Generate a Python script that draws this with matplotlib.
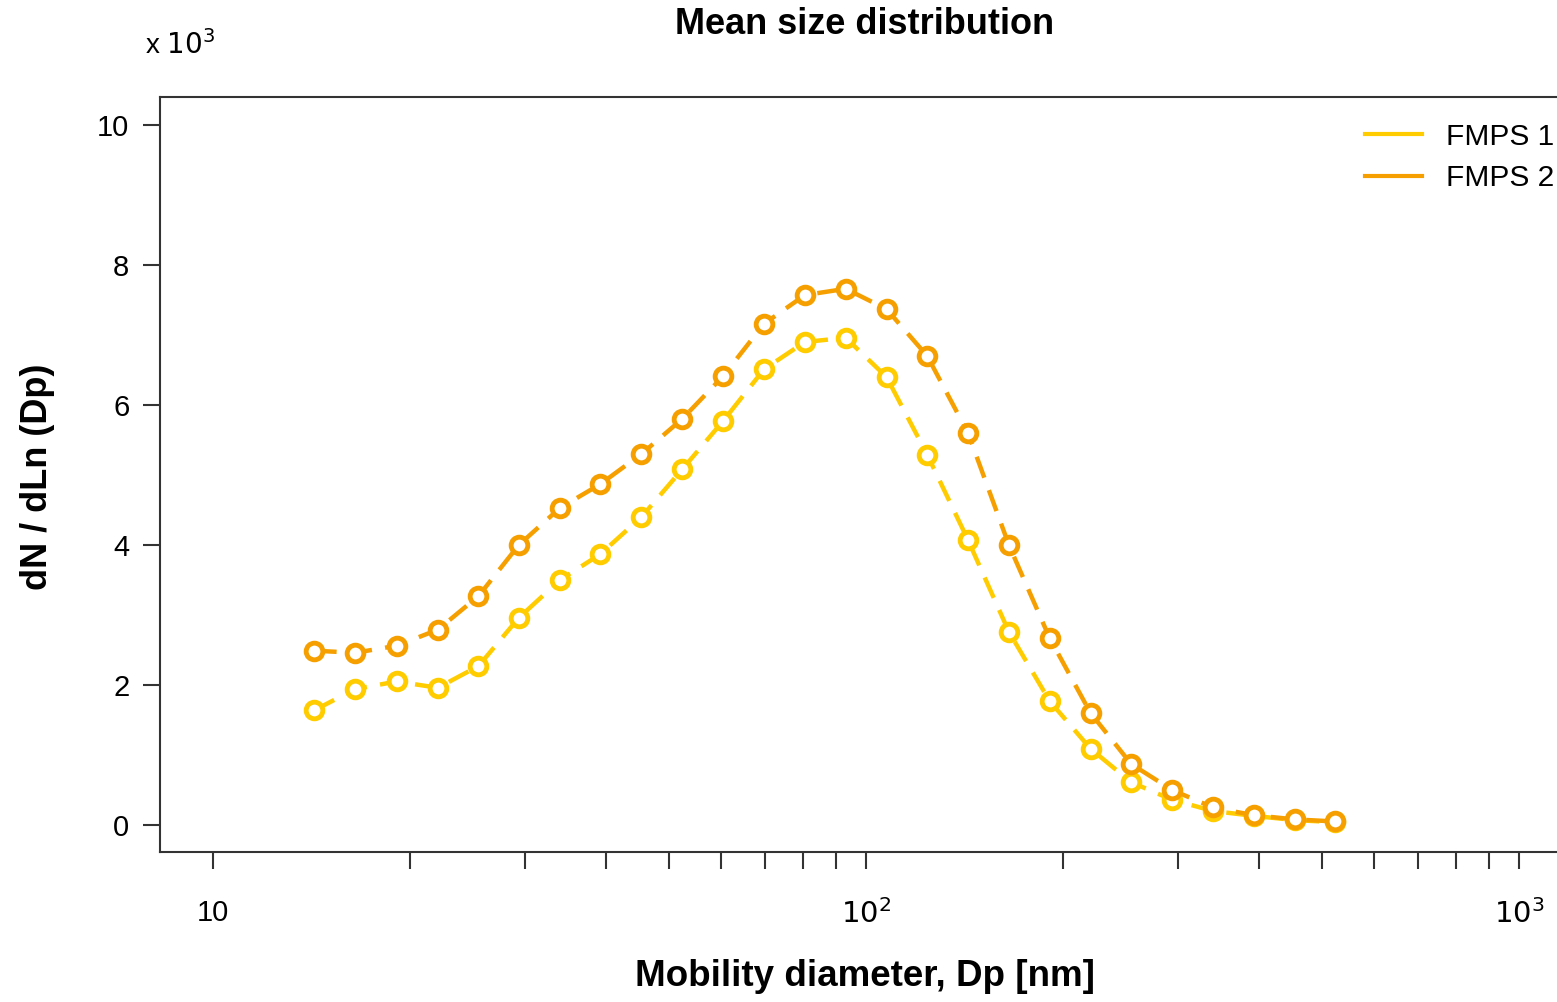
import numpy as np
from matplotlib import pyplot as plt
from matplotlib.ticker import FixedLocator, NullFormatter

plt.rcParams['font.family'] = ['Liberation Sans', 'DejaVu Sans']

# FMPS channel midpoints (nm)
dp = [14.3, 16.5, 19.1, 22.1, 25.5, 29.4, 34.0, 39.2, 45.3, 52.3, 60.4, 69.8, 80.6,
      93.1, 107.5, 124.1, 143.3, 165.5, 191.1, 220.7, 254.8, 294.3, 339.8, 392.4,
      453.2, 523.3]

# dN/dLn(Dp), x 10^3
fmps1 = [1.64, 1.94, 2.05, 1.96, 2.27, 2.96, 3.50, 3.87, 4.40, 5.08, 5.77, 6.51, 6.90,
         6.96, 6.40, 5.29, 4.07, 2.76, 1.77, 1.09, 0.61, 0.36, 0.20, 0.13, 0.07, 0.04]
fmps2 = [2.49, 2.46, 2.56, 2.79, 3.27, 4.00, 4.53, 4.87, 5.30, 5.80, 6.41, 7.16, 7.57,
         7.66, 7.37, 6.70, 5.60, 4.00, 2.67, 1.60, 0.87, 0.50, 0.25, 0.14, 0.08, 0.05]

c1 = '#FFCC00'
c2 = '#F5A000'

fig = plt.figure(figsize=(15.57, 10.02), dpi=100)
ax = fig.add_axes([160 / 1557, 150 / 1002, 1402 / 1557, 755 / 1002])

for ys, c in [(fmps1, c1), (fmps2, c2)]:
    ax.plot(dp, ys, color=c, lw=3.2, ls=(0, (5, 3)), marker='o', ms=12,
            mew=3.5, mfc='white', mec=c)

# legend shows plain lines only
ax.plot([], [], color=c1, lw=3, label='FMPS 1')
ax.plot([], [], color=c2, lw=3, label='FMPS 2')
ax.legend(loc='upper left', bbox_to_anchor=(0.8595, 0.966), frameon=False,
          fontsize=21.5, handlelength=1.9, handletextpad=0.8, labelspacing=0.45,
          borderpad=0, borderaxespad=0)

ax.set_xscale('log')
ax.set_xlim(10 ** (1 - 53 / 653), 10 ** (3 + 43 / 653))
ax.set_ylim(-0.386, 10.4)

ax.xaxis.set_major_locator(FixedLocator([10, 100, 1000]))
ax.set_xticklabels(['10', r'$10^2$', r'$10^3$'])
minors = [m * d for d in (10, 100) for m in range(2, 10)] + [2000]
ax.xaxis.set_minor_locator(FixedLocator(minors))
ax.xaxis.set_minor_formatter(NullFormatter())
ax.set_yticks([0, 2, 4, 6, 8, 10])

ax.tick_params(axis='both', which='both', direction='out', length=12, width=1.5,
               color='#333333', labelsize=21)
ax.tick_params(axis='x', which='major', pad=22)
ax.tick_params(axis='y', pad=10)
for s in ax.spines.values():
    s.set_linewidth(1.5)
    s.set_color('#333333')

fig.text(865 / 1557, 1 - 25 / 1002, 'Mean size distribution', ha='center', va='center',
         fontsize=26, fontweight='bold')
fig.text(865 / 1557, 1 - 977 / 1002, 'Mobility diameter, Dp [nm]', ha='center',
         va='center', fontsize=26.5, fontweight='bold')
fig.text(38 / 1557, 1 - 477 / 1002, 'dN / dLn (Dp)', ha='center', va='center',
         rotation=90, fontsize=26, fontweight='bold')
fig.text(145 / 1557, 1 - 45 / 1002, r'x $10^3$', ha='left', va='center', fontsize=20)

fig.savefig('out.png', dpi=100)
